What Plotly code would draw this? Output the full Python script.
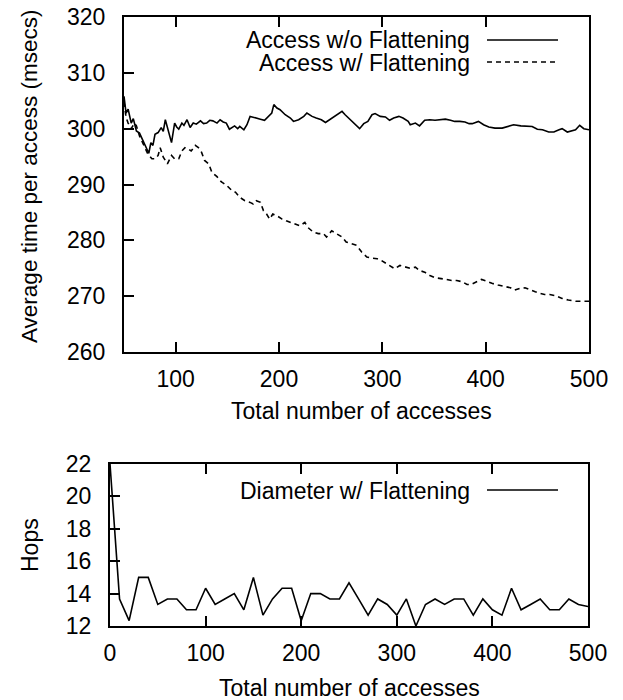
import plotly.graph_objects as go

# ---------------- data ----------------
# Top panel: average time per access (msecs)
x_noflat = [50, 52, 54, 57, 59, 62, 65, 67, 70, 73, 74, 76, 78, 80, 83, 86, 88, 90, 93, 96,
            99, 101, 103, 106, 108, 111, 114, 117, 120, 124, 127, 130, 133, 136, 140, 143, 146, 149, 152, 155,
            157, 160, 162, 166, 169, 172, 177, 182, 186, 190, 193, 195, 198, 201, 206, 211, 214, 219, 224, 227,
            232, 236, 241, 245, 249, 254, 257, 261, 264, 269, 274, 278, 282, 286, 290, 293, 298, 303, 307, 311,
            316, 320, 325, 327, 332, 336, 341, 346, 351, 356, 361, 366, 370, 375, 380, 384, 387, 393, 398, 403,
            409, 416, 421, 427, 434, 440, 445, 450, 455, 461, 466, 471, 474, 479, 484, 487, 491, 495, 500]
y_noflat = [305.8, 302.8, 303.5, 301.0, 301.8, 299.6, 299.2, 298.4, 297.0, 296.0, 295.6, 297.5, 297.0, 299.0, 299.3, 300.2, 299.5, 301.6, 299.3, 297.5,
            301.0, 300.3, 299.9, 301.0, 300.6, 301.6, 300.2, 301.0, 300.8, 301.4, 300.9, 301.0, 301.5, 301.4, 301.0, 301.6, 301.2, 301.0, 299.9, 300.3,
            300.5, 300.0, 300.4, 299.8, 300.7, 302.2, 301.9, 301.7, 301.5, 302.2, 302.8, 304.3, 303.7, 303.4, 302.5, 301.9, 301.3, 301.6, 302.2, 302.8,
            302.2, 301.9, 301.6, 301.1, 301.6, 302.2, 302.5, 303.1, 302.5, 301.6, 300.7, 300.0, 300.9, 301.3, 302.5, 302.7, 302.2, 302.1, 301.5, 301.9,
            302.2, 301.9, 301.3, 300.7, 301.0, 300.5, 301.5, 301.6, 301.5, 301.6, 301.7, 301.5, 301.3, 301.3, 301.2, 300.9, 300.9, 301.3, 300.7, 300.3,
            300.1, 300.1, 300.4, 300.7, 300.5, 300.5, 300.4, 299.9, 299.8, 299.4, 299.4, 299.8, 300.0, 299.4, 299.7, 299.8, 300.6, 300.0, 299.8]

x_flat = [50, 52, 54, 57, 60, 62, 65, 68, 70, 73, 77, 80, 83, 85, 88, 92, 96, 99, 103, 106,
          109, 112, 115, 119, 122, 125, 128, 132, 135, 140, 144, 149, 154, 158, 162, 167, 172, 175, 178, 182,
          185, 188, 191, 194, 198, 203, 207, 212, 217, 220, 225, 228, 233, 238, 243, 246, 251, 256, 261, 265,
          270, 275, 280, 285, 290, 295, 299, 304, 309, 312, 317, 322, 327, 332, 336, 341, 346, 351, 356, 362,
          367, 372, 377, 382, 386, 391, 396, 401, 406, 412, 419, 424, 428, 433, 438, 443, 448, 453, 457, 462,
          467, 474, 480, 487, 493, 500]
y_flat = [304.8, 302.0, 301.0, 300.0, 301.0, 300.5, 298.7, 297.5, 296.6, 295.5, 294.6, 294.6, 295.2, 296.6, 294.9, 293.7, 295.2, 294.6, 294.6, 296.0,
          296.6, 296.4, 296.0, 297.0, 296.6, 295.8, 294.3, 293.7, 292.2, 291.4, 290.5, 289.9, 289.0, 288.6, 287.7, 287.1, 286.8, 286.5, 287.1, 286.8,
          285.3, 284.7, 283.8, 284.7, 284.4, 283.8, 283.5, 283.2, 282.9, 282.6, 283.2, 282.3, 281.5, 281.2, 281.2, 280.6, 281.7, 281.2, 280.6, 279.7,
          279.4, 279.1, 277.9, 277.0, 276.8, 276.7, 276.4, 275.8, 275.2, 274.9, 275.5, 275.2, 275.0, 275.2, 274.6, 274.3, 273.7, 273.3, 273.2, 273.0,
          272.8, 272.8, 272.6, 272.1, 272.1, 272.6, 273.0, 272.7, 272.3, 272.0, 271.7, 271.5, 271.1, 271.4, 271.5, 271.1, 270.8, 270.5, 270.3, 270.3,
          270.1, 269.6, 269.3, 269.1, 269.1, 269.1]

# Bottom panel: diameter (hops)
x_diam = list(range(0, 501, 10))
y_diam = [22.0, 13.67, 12.33, 15.0, 15.0, 13.33, 13.67, 13.67, 13.0, 13.0,
          14.33, 13.33, 13.67, 14.0, 13.0, 15.0, 12.67, 13.67, 14.33, 14.33,
          12.33, 14.0, 14.0, 13.67, 13.67, 14.67, 13.67, 12.67, 13.67, 13.33,
          12.67, 13.67, 12.0, 13.33, 13.67, 13.33, 13.67, 13.67, 12.67, 13.67,
          13.0, 12.67, 14.33, 13.0, 13.33, 13.67, 13.0, 13.0, 13.67, 13.33,
          13.2]

top_yticks = [260, 270, 280, 290, 300, 310, 320]
top_xticks = [100, 200, 300, 400, 500]
bot_yticks = [12, 14, 16, 18, 20, 22]
bot_xticks = [0, 100, 200, 300, 400, 500]

series_names = ["Access w/o Flattening", "Access w/ Flattening", "Diameter w/ Flattening"]

# ---------------- figure ----------------
# The page body has an 8px margin, so the figure is sized to fit the 623x700 window
OFF = 8
W, H = 623 - OFF, 700 - OFF
FONT = "Liberation Sans, Arial, Helvetica, sans-serif"
FS = 23

def px(x):  # screen pixel -> paper fraction
    return (x - OFF) / W

def py(y):
    return 1 - (y - OFF) / H

fig = go.Figure()
fig.add_trace(go.Scatter(x=x_noflat, y=y_noflat, mode="lines", name=series_names[0],
                         line=dict(color="black", width=1.6), xaxis="x", yaxis="y"))
fig.add_trace(go.Scatter(x=x_flat, y=y_flat, mode="lines", name=series_names[1],
                         line=dict(color="black", width=1.6, dash="5px,4px"), xaxis="x", yaxis="y"))
fig.add_trace(go.Scatter(x=x_diam, y=y_diam, mode="lines", name=series_names[2],
                         line=dict(color="black", width=1.6), xaxis="x2", yaxis="y2"))

axis_common = dict(showline=True, linecolor="black", linewidth=2, showgrid=False, zeroline=False,
                   ticks="inside", ticklen=10, tickwidth=1.5, tickcolor="black", automargin=False,
                   ticklabeloverflow="allow",
                   tickfont=dict(family=FONT, size=FS, color="black"))

fig.update_layout(
    width=W, height=H, autosize=False,
    margin=dict(l=0, r=0, t=0, b=0, pad=0, autoexpand=False),
    paper_bgcolor="white", plot_bgcolor="white",
    showlegend=False,
    font=dict(family=FONT, size=FS, color="black"),
    xaxis=dict(domain=[px(124), px(589)], range=[50, 500], tickvals=top_xticks,
               anchor="y", mirror="ticks", ticklabelstandoff=5, **axis_common),
    yaxis=dict(domain=[py(352), py(17)], range=[260, 320], tickvals=top_yticks,
               anchor="x", mirror=True, ticklabelstandoff=12, **axis_common),
    xaxis2=dict(domain=[px(110), px(588)], range=[0, 500], tickvals=bot_xticks,
                anchor="y2", mirror="ticks", ticklabelstandoff=5, **axis_common),
    yaxis2=dict(domain=[py(626), py(464)], range=[12, 22], tickvals=bot_yticks,
                anchor="x2", mirror=True, ticklabelstandoff=12, **axis_common),
)

annotations = [
    dict(text="Average time per access (msecs)", x=px(30), y=py(177), textangle=-90, size=22.5),
    dict(text="Total number of accesses", x=px(361), y=py(411)),
    dict(text="Hops", x=px(30), y=py(545), textangle=-90),
    dict(text="Total number of accesses", x=px(349), y=py(688)),
    dict(text=series_names[0], x=px(472), y=py(40), xanchor="right"),
    dict(text=series_names[1], x=px(472), y=py(63), xanchor="right"),
    dict(text=series_names[2], x=px(472), y=py(491), xanchor="right"),
]
for a in annotations:
    a.setdefault("xanchor", "center")
    size = a.pop("size", FS)
    fig.add_annotation(xref="paper", yref="paper", showarrow=False, yanchor="middle",
                       font=dict(family=FONT, size=size, color="black"), **a)

legend_samples = [
    (py(40), "solid"),
    (py(62), "5px,4px"),
    (py(490), "solid"),
]
for yy, dash in legend_samples:
    fig.add_shape(type="line", xref="paper", yref="paper", x0=px(487), x1=px(558), y0=yy, y1=yy,
                  line=dict(color="black", width=1.6, dash=dash))

fig.write_html("out.html")
